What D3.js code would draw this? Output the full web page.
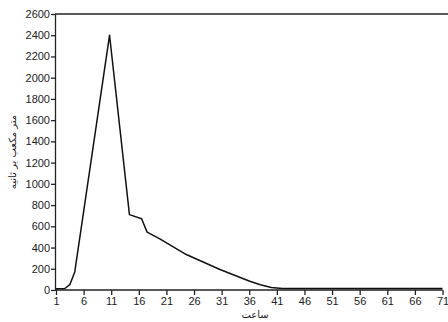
<!DOCTYPE html>
<html>
<head>
<meta charset="utf-8">
<script src="https://cdn.jsdelivr.net/npm/d3@7"></script>
<style>
  body { margin: 0; background: #fff; }
  .axis text { font-family: "Liberation Sans", Arial, sans-serif; font-size: 11px; fill: #222; }
  .axis path, .axis line { stroke: #222; stroke-width: 1.3px; }
</style>
</head>
<body>
<div id="chart"></div>
<script>
// hours (x) and discharge in m3/s (y)
const hours = [1, 2.6, 3.5, 4.4, 10.7, 14.3, 16.5, 17.5, 19.8, 24.6, 30.7, 36.1, 38, 40, 42, 71];
const flow  = [12, 14, 50, 170, 2400, 710, 672, 545, 482, 334, 193, 83, 50, 24, 14, 14];
const xTicks = [1, 6, 11, 16, 21, 26, 31, 36, 41, 46, 51, 56, 61, 66, 71];
const yTicks = [0, 200, 400, 600, 800, 1000, 1200, 1400, 1600, 1800, 2000, 2200, 2400, 2600];
const xTitle = 'ساعت';
const yTitle = 'متر مکعب بر ثانیه';

const W = 448, H = 322;
const margin = { top: 14, right: 6, bottom: 32, left: 55 };

const svg = d3.select('#chart').append('svg')
  .attr('width', W)
  .attr('height', H);

const x = d3.scaleLinear().domain([1, 71]).range([margin.left + 1, 442.5]);
const y = d3.scaleLinear().domain([0, 2600]).range([H - margin.bottom, margin.top]);

// top frame line
svg.append('line')
  .attr('x1', margin.left).attr('x2', W)
  .attr('y1', y(2600)).attr('y2', y(2600))
  .attr('stroke', '#222').attr('stroke-width', 1.5);

// y axis
svg.append('g')
  .attr('class', 'axis')
  .attr('transform', `translate(${margin.left},0)`)
  .call(d3.axisLeft(y).tickValues(yTicks).tickSize(4).tickSizeOuter(0).tickPadding(1).tickFormat(d3.format('d')));

// x axis
svg.append('g')
  .attr('class', 'axis')
  .attr('transform', `translate(0,${y(0)})`)
  .call(d3.axisBottom(x).tickValues(xTicks).tickSize(5).tickSizeOuter(0).tickPadding(2))
  .call(g => g.select('.domain').attr('d', `M${margin.left},0H${x(71)}`));

// discharge line
const line = d3.line()
  .x((d, i) => x(hours[i]))
  .y(d => y(d));

svg.append('path')
  .datum(flow)
  .attr('fill', 'none')
  .attr('stroke', '#111')
  .attr('stroke-width', 1.5)
  .attr('stroke-linejoin', 'round')
  .attr('d', line);

// axis titles
svg.append('text')
  .attr('x', 255)
  .attr('y', 318)
  .attr('text-anchor', 'middle')
  .attr('direction', 'rtl')
  .style('font-family', '"DejaVu Sans", sans-serif')
  .style('font-size', '10px')
  .attr('fill', '#222')
  .text(xTitle);

svg.append('text')
  .attr('transform', 'translate(16,152) rotate(-90)')
  .attr('text-anchor', 'middle')
  .attr('direction', 'rtl')
  .style('font-family', '"DejaVu Sans", sans-serif')
  .style('font-size', '10px')
  .attr('fill', '#222')
  .text(yTitle);
</script>
</body>
</html>
